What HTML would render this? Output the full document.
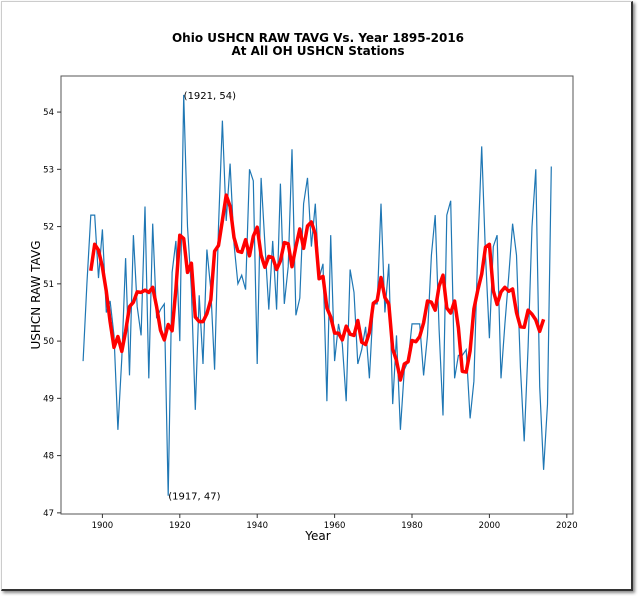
<!DOCTYPE html>
<html><head><meta charset="utf-8"><style>
body{margin:0;background:#fff;width:640px;height:596px;overflow:hidden;font-family:"DejaVu Sans","Liberation Sans",sans-serif}
#frame{position:absolute;left:1px;top:1px;width:629px;height:587px;border:1px solid #ccc;border-right:2px solid #333;border-bottom:2px solid #333;box-shadow:2px 2px 3px #888;background:#fff}
</style></head><body>
<div id="frame"></div>
<svg id="chart" width="640" height="596" style="position:absolute;left:0;top:0;font-family:'DejaVu Sans','Liberation Sans',sans-serif">
<text x="318" y="42" text-anchor="middle" font-weight="bold" font-size="12">Ohio USHCN RAW TAVG Vs. Year 1895-2016</text>
<text x="318" y="55" text-anchor="middle" font-weight="bold" font-size="12">At All OH USHCN Stations</text>
<text x="318" y="540" text-anchor="middle" font-size="12">Year</text>
<text transform="translate(40,295) rotate(-90)" text-anchor="middle" font-size="12">USHCN RAW TAVG</text>
<g id="plot"></g>
</svg>
<script>
const years=[];for(let y=1895;y<=2016;y++)years.push(y);
const tavg=[49.65,51.0,52.2,52.2,51.1,51.95,50.5,50.7,50.1,48.45,49.7,51.45,49.4,51.85,50.6,50.1,52.35,49.35,52.05,50.4,50.55,50.65,47.3,51.2,51.75,50.0,54.3,52.0,50.9,48.8,50.8,49.6,51.6,50.9,49.5,52.0,53.85,52.1,53.1,51.7,51.0,51.15,50.9,53.0,52.8,49.6,52.85,51.7,50.55,51.75,50.55,52.75,50.65,51.3,53.35,50.45,50.75,52.4,52.85,51.65,52.4,51.1,51.35,48.95,51.85,49.65,50.3,49.95,48.95,51.25,50.85,49.6,49.85,50.25,49.35,50.65,50.65,52.4,50.5,51.35,48.9,50.1,48.45,49.5,49.65,50.3,50.3,50.3,49.4,50.1,51.5,52.2,50.2,48.7,52.2,52.45,49.35,49.75,49.75,49.85,48.65,49.3,51.6,53.4,51.5,50.05,51.65,51.85,49.35,50.3,51.15,52.05,51.5,49.55,48.25,49.9,52.0,53.0,49.2,47.75,48.9,53.05];
const xTicks=[1900,1920,1940,1960,1980,2000,2020];
const yTicks=[47,48,49,50,51,52,53,54];
const L=61,R=573,T=76,B=514;
const X0=1889.3,X1=2021.6,Y0=46.98,Y1=54.63;
const sx=v=>L+(v-X0)/(X1-X0)*(R-L);
const sy=v=>B-(v-Y0)/(Y1-Y0)*(B-T);
const ns="http://www.w3.org/2000/svg";
const g=document.getElementById('plot');
function mk(t,a){const e=document.createElementNS(ns,t);for(const k in a)e.setAttribute(k,a[k]);g.appendChild(e);return e;}
let d=years.map((y,i)=>(i?'L':'M')+sx(y).toFixed(1)+','+sy(tavg[i]).toFixed(1)).join('');
let p=mk('path',{d:d,fill:'none',stroke:'#1f77b4','stroke-width':1.2});


let md='';
for(let i=2;i<years.length-2;i++){let m=(tavg[i-2]+tavg[i-1]+tavg[i]+tavg[i+1]+tavg[i+2])/5;md+=(i>2?'L':'M')+sx(years[i]).toFixed(1)+','+sy(m).toFixed(1);}
p=mk('path',{d:md,fill:'none',stroke:'#ff0000','stroke-width':3.5,'stroke-linejoin':'round'});


let r=mk('rect',{x:L,y:T,width:R-L,height:B-T,fill:'none',stroke:'#555','stroke-width':1});


xTicks.forEach(t=>{mk('line',{x1:sx(t),x2:sx(t),y1:B,y2:B+4,stroke:'#333'});
 let e=mk('text',{x:sx(t),y:B+14,'text-anchor':'middle','font-size':8.5});e.textContent=t;
 
 });
yTicks.forEach(t=>{mk('line',{x1:L-4,x2:L,y1:sy(t),y2:sy(t),stroke:'#333'});
 let e=mk('text',{x:L-7,y:sy(t)+3,'text-anchor':'end','font-size':8.5});e.textContent=t;
 
 });
let a1=mk('text',{x:sx(1921),y:sy(54.3)+4,'font-size':10});a1.textContent='(1921, 54)';


let a2=mk('text',{x:sx(1917),y:sy(47.3)+4,'font-size':10});a2.textContent='(1917, 47)';


</script>
</body></html>
